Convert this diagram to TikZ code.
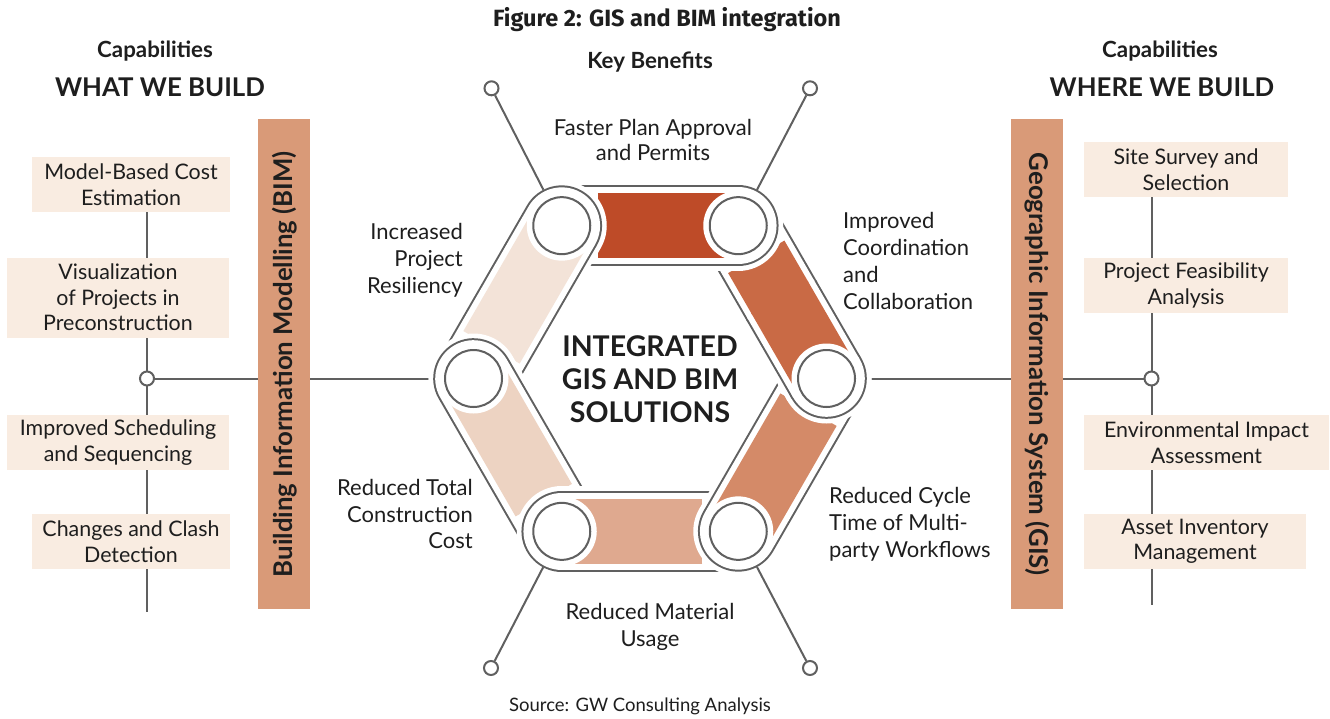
\documentclass[tikz,border=0pt]{standalone}
\usepackage{fontspec}
\setmainfont{Lato}
\newfontfamily\titlefont{Fira Sans}
\usetikzlibrary{calc}
\pgfdeclarelayer{bg}
\pgfsetlayers{bg,main}
\definecolor{ringgray}{HTML}{606060}
\definecolor{txt}{HTML}{1E1E1E}
\definecolor{barfill}{HTML}{D99A78}
\definecolor{boxfill}{HTML}{F9ECE1}
\definecolor{cA}{HTML}{BE4B28}
\definecolor{cB}{HTML}{C96A45}
\definecolor{cC}{HTML}{D48A68}
\definecolor{cD}{HTML}{DFA98F}
\definecolor{cE}{HTML}{EDD3C2}
\definecolor{cF}{HTML}{F3E3D8}
\newcommand{\hexseg}[3]{%
  \draw[white, line width=90pt, line cap=round] (#1) -- (#2);
  \draw[ringgray, line width=80.6pt, line cap=round] (#1) -- (#2);
  \draw[white, line width=76.6pt, line cap=round] (#1) -- (#2);
  \draw[#3, line width=65pt] ($(#1)!36pt!(#2)$) -- (#2);
}
% redraw of the end half of a segment (start at #1 mid point, round end at #2)
\newcommand{\hexsegend}[3]{%
  \draw[white, line width=90pt] (#1) -- (#2);
  \fill[white] (#2) circle[radius=45];
  \draw[ringgray, line width=80.6pt] ($(#1)!-2pt!(#2)$) -- (#2);
  \fill[ringgray] (#2) circle[radius=40.3];
  \draw[white, line width=76.6pt] ($(#1)!-4pt!(#2)$) -- (#2);
  \fill[white] (#2) circle[radius=38.3];
  \draw[#3, line width=65pt] ($(#1)!-6pt!(#2)$) -- (#2);
}
\tikzset{
  conn/.style={ringgray, line width=2pt},
  dot/.style={circle, draw=ringgray, line width=2pt, fill=white, minimum size=14pt, inner sep=0pt},
  hub/.style={circle, draw=ringgray, line width=2pt, fill=white, minimum size=57pt, inner sep=0pt},
  capbox/.style={fill=boxfill, align=center, inner sep=0pt, text=txt, font=\fontsize{21.4}{25.5}\selectfont},
  bar/.style={fill=barfill, inner sep=0pt, text=txt, font=\bfseries\fontsize{25.8}{28}\selectfont},
  lbl/.style={text=txt, inner sep=0pt, font=\fontsize{22}{26.8}\selectfont},
  head/.style={text=txt, inner sep=0pt, font=\bfseries\fontsize{22.3}{26}\selectfont},
  bighead/.style={text=txt, inner sep=0pt, font=\bfseries\fontsize{25.8}{30}\selectfont},
}
\begin{document}
\begin{tikzpicture}[x=1pt,y=-1pt]
\useasboundingbox (0,0) rectangle (1330,718);
% hexagon vertices
\coordinate (P0) at (561.75,225.65);
\coordinate (P1) at (738.25,225.65);
\coordinate (P2) at (826.5,378.5);
\coordinate (P3) at (738.25,531.35);
\coordinate (P4) at (561.75,531.35);
\coordinate (P5) at (473.5,378.5);
\coordinate (M12) at ($(P1)!0.5!(P2)$);
\coordinate (Lbot) at (147,612);
\coordinate (Rbot) at (1151.5,605);
% side boxes
\node[capbox, minimum width=198pt, minimum height=55pt] (L1) at (131,184.5) {Model-Based Cost\\Estimation};
\node[capbox, minimum width=222pt, minimum height=80pt] (L2) at (118,297.5) {Visualization\\of Projects in\\Preconstruction};
\node[capbox, minimum width=222pt, minimum height=55pt] (L3) at (118,442.5) {Improved Scheduling\\and Sequencing};
\node[capbox, minimum width=198pt, minimum height=55pt] (L4) at (131,541.5) {Changes and Clash\\Detection};
\node[capbox, minimum width=204pt, minimum height=55pt] (R1) at (1186,169.5) {Site Survey and\\Selection};
\node[capbox, minimum width=204pt, minimum height=55pt] (R2) at (1186,285.5) {Project Feasibility\\Analysis};
\node[capbox, minimum width=245pt, minimum height=55pt] (R3) at (1206.5,442.5) {Environmental Impact\\Assessment};
\node[capbox, minimum width=222pt, minimum height=55pt] (R4) at (1195,541.5) {Asset Inventory\\Management};
% bars
\node[bar, rotate=90, minimum width=490pt, minimum height=51.7pt] (bim) at (284.2,364.2) {Building Information Modelling (BIM)};
\node[bar, rotate=-90, minimum width=490pt, minimum height=51.7pt] (gis) at (1036.9,364.2) {Geographic Information System (GIS)};
% junction dots
\node[dot] (sL) at (147,378.5) {};
\node[dot] (sR) at (1151.5,378.5) {};
\node[dot] (s0) at (491.5,88.3) {};
\node[dot] (s1) at (810,88.3) {};
\node[dot] (s3) at (810,668) {};
\node[dot] (s4) at (491,668) {};
\begin{pgfonlayer}{bg}
\fill[white] (0,0) rectangle (1330,718);
\draw[conn] (L1.south -| sL) -- (Lbot);
\draw[conn] (R1.south -| sR) -- (Rbot);
\draw[conn] (sL) -- ($(P5)!40.3pt!(sL)$);
\draw[conn] (sR) -- ($(P2)!40.3pt!(sR)$);
\end{pgfonlayer}
% belt segments
\hexseg{P1}{P2}{cB}
\hexseg{P0}{P1}{cA}
\hexseg{P5}{P0}{cF}
\hexseg{P4}{P5}{cE}
\hexseg{P3}{P4}{cD}
\hexseg{P2}{P3}{cC}
\hexsegend{M12}{P2}{cB}
\foreach \p in {P0,P1,P2,P3,P4,P5}{\fill[white] (\p) circle[radius=35];}
\node[hub] (h0) at (P0) {};
\node[hub] (h1) at (P1) {};
\node[hub] (h2) at (P2) {};
\node[hub] (h3) at (P3) {};
\node[hub] (h4) at (P4) {};
\node[hub] (h5) at (P5) {};
% spokes
\draw[conn] ($(P0)!40.3pt!(s0)$) -- (s0);
\draw[conn] ($(P1)!40.3pt!(s1)$) -- (s1);
\draw[conn] ($(P3)!40.3pt!(s3)$) -- (s3);
\draw[conn] ($(P4)!40.3pt!(s4)$) -- (s4);
% texts
\node[text=txt, font=\titlefont\bfseries\fontsize{23.5}{27}\selectfont] (title) at (667,20) {Figure 2: GIS and BIM integration};
\node[head] (capL) at (155,51.5) {Capabilities};
\node[bighead] (whatL) at (160,87.5) {WHAT WE BUILD};
\node[head] (capR) at (1160,51.5) {Capabilities};
\node[bighead] (whereR) at (1162,87.5) {WHERE WE BUILD};
\node[head] (kb) at (650,62.5) {Key Benefits};
\node[text=txt, align=center, font=\bfseries\fontsize{28.5}{33}\selectfont] (core) at (650,379) {INTEGRATED\\GIS AND BIM\\SOLUTIONS};
\node[lbl, align=center, font=\fontsize{22}{24.5}\selectfont] (b0) at (653,140) {Faster Plan Approval\\and Permits};
\node[lbl, align=left, anchor=west] (b1) at (843,261) {Improved\\Coordination\\and\\Collaboration};
\node[lbl, align=left, anchor=west] (b2) at (829,524.5) {Reduced Cycle\\Time of Multi-\\party Workflows};
\node[lbl, align=center] (b3) at (650,626.5) {Reduced Material\\Usage};
\node[lbl, align=right, anchor=east] (b4) at (473,514) {Reduced Total\\Construction\\Cost};
\node[lbl, align=right, anchor=east] (b5) at (463,260) {Increased\\Project\\Resiliency};
\node[text=txt, font=\fontsize{18.5}{22}\selectfont] (src) at (640,706) {Source: GW Consulting Analysis};
\end{tikzpicture}
\end{document}
